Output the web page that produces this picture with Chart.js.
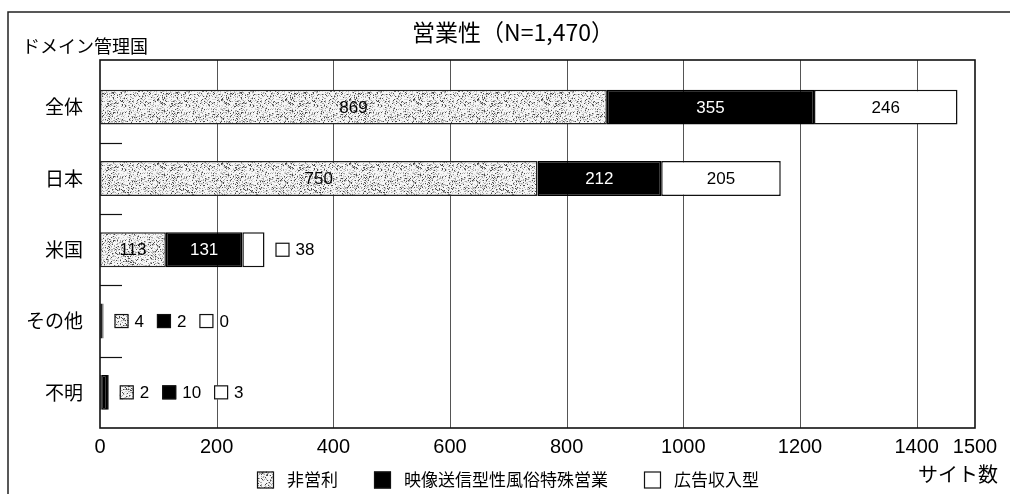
<!DOCTYPE html>
<html>
<head>
<meta charset="utf-8">
<script src="https://cdn.jsdelivr.net/npm/chart.js@4.4.1/dist/chart.umd.min.js"></script>
<style>
  html, body { margin: 0; padding: 0; background: #fff; }
  #wrap { width: 1010px; height: 494px; position: relative; }
</style>
</head>
<body>
<div id="wrap"><canvas id="c" width="1010" height="494"></canvas></div>
<script>
// Sites by domain registrant country, split by business type
const categories = ['全体', '日本', '米国', 'その他', '不明'];
const nonProfit  = [869, 750, 113, 4, 2];
const adultVideo = [355, 212, 131, 2, 10];
const adRevenue  = [246, 205, 38, 0, 3];
const seriesNames = ['非営利', '映像送信型性風俗特殊営業', '広告収入型'];
const xTicks = [0, 200, 400, 600, 800, 1000, 1200, 1400, 1500];
const chartTitle = '営業性（N=1,470）';
const yTitle = 'ドメイン管理国';
const xTitle = 'サイト数';

const JP = '"Noto Sans CJK JP", "Noto Sans", sans-serif';
const NUM = '"Liberation Sans", Arial, sans-serif';

const canvas = document.getElementById('c');
const ctx = canvas.getContext('2d');

// Speckled grey fill for the non-profit series (fixed hash, repeats as a tile)
function makeStipple() {
  const n = 64;
  const t = document.createElement('canvas');
  t.width = n; t.height = n;
  const g = t.getContext('2d');
  g.fillStyle = '#f6f6f6';
  g.fillRect(0, 0, n, n);
  for (let y = 0; y < n; y++) {
    for (let x = 0; x < n; x++) {
      const v = Math.sin(x * 12.9898 + y * 78.233) * 43758.5453;
      const f = v - Math.floor(v);
      if (f < 0.09) { g.fillStyle = '#4a4a4a'; g.fillRect(x, y, 1, 1); }
      else if (f < 0.26) { g.fillStyle = '#a8a8a8'; g.fillRect(x, y, 1, 1); }
      else if (f < 0.40) { g.fillStyle = '#d6d6d6'; g.fillRect(x, y, 1, 1); }
    }
  }
  return ctx.createPattern(t, 'repeat');
}
const stipple = makeStipple();
const fills = [stipple, '#000000', '#ffffff'];
const series = [nonProfit, adultVideo, adRevenue];

function drawSwatch(c, i, x, y, s) {
  c.fillStyle = fills[i];
  c.fillRect(x, y, s, s);
  c.lineWidth = 1.2;
  c.strokeStyle = '#111';
  c.strokeRect(x + 0.5, y + 0.5, s - 1, s - 1);
}

const decor = {
  id: 'decor',
  beforeDatasetsDraw(chart) {
    const c = chart.ctx;
    const a = chart.chartArea;
    const xs = chart.scales.x;
    const ys = chart.scales.y;
    const top = 60;
    c.save();
    // vertical grid lines
    c.strokeStyle = '#555';
    c.lineWidth = 1;
    xTicks.forEach(v => {
      if (v === 0 || v === 1500) return;
      const px = Math.round(xs.getPixelForValue(v)) + 0.5;
      c.beginPath(); c.moveTo(px, top); c.lineTo(px, a.bottom); c.stroke();
    });
    // plot frame
    c.strokeStyle = '#111';
    c.lineWidth = 1.6;
    c.strokeRect(a.left, top, a.right - a.left, a.bottom - top);
    // short marks between categories
    c.lineWidth = 1.2;
    for (let j = 0; j < categories.length - 1; j++) {
      const py = Math.round((ys.getPixelForValue(j) + ys.getPixelForValue(j + 1)) / 2) + 0.5;
      c.beginPath(); c.moveTo(a.left, py); c.lineTo(a.left + 22, py); c.stroke();
    }
    c.restore();
  },
  afterDatasetsDraw(chart) {
    const c = chart.ctx;
    c.save();
    c.textBaseline = 'middle';
    categories.forEach((cat, j) => {
      const bars = [0, 1, 2].map(i => chart.getDatasetMeta(i).data[j]);
      let cursor = Math.max(...bars.map(b => b.x)) + 11;
      bars.forEach((b, i) => {
        const w = Math.abs(b.x - b.base);
        const txt = String(series[i][j]);
        if (w >= 28) {
          c.font = '17px ' + NUM;
          c.textAlign = 'center';
          c.fillStyle = i === 1 ? '#fff' : '#000';
          c.fillText(txt, (b.x + b.base) / 2, b.y + 1);
        } else {
          const s = 14;
          drawSwatch(c, i, cursor, b.y - s / 2, s);
          c.font = '17px ' + NUM;
          c.textAlign = 'left';
          c.fillStyle = '#000';
          c.fillText(txt, cursor + s + 6, b.y + 1);
          cursor += s + 6 + c.measureText(txt).width + 13;
        }
      });
    });
    c.restore();
  },
  afterDraw(chart) {
    const c = chart.ctx;
    c.save();
    // outer frame lines
    c.strokeStyle = '#222';
    c.lineWidth = 1.5;
    c.beginPath();
    c.moveTo(8, 494); c.lineTo(8, 12); c.lineTo(1010, 12);
    c.stroke();
    c.fillStyle = '#000';
    c.textBaseline = 'middle';
    // title
    c.font = '23px ' + JP;
    c.textAlign = 'center';
    c.fillText(chartTitle, 513, 32);
    // axis titles
    c.font = '18px ' + JP;
    c.textAlign = 'left';
    c.fillText(yTitle, 22, 46);
    c.font = '20px ' + JP;
    c.textAlign = 'right';
    c.fillText(xTitle, 998, 474);
    // legend
    c.font = '17px ' + JP;
    const box = 17, gapIn = 13, gapOut = 36;
    const widths = seriesNames.map(n => c.measureText(n).width);
    const total = widths.reduce((s, w) => s + box + gapIn + w, 0) + gapOut * (seriesNames.length - 1);
    let x = 508 - total / 2;
    const ly = 480;
    c.textAlign = 'left';
    seriesNames.forEach((n, i) => {
      drawSwatch(c, i, x, ly - box / 2, box);
      c.fillStyle = '#000';
      c.fillText(n, x + box + gapIn, ly);
      x += box + gapIn + widths[i] + gapOut;
    });
    c.restore();
  }
};

new Chart(ctx, {
  type: 'bar',
  data: {
    labels: categories,
    datasets: [
      { label: seriesNames[0], data: nonProfit, backgroundColor: stipple, borderColor: '#222', borderWidth: 1.5, borderSkipped: false },
      { label: seriesNames[1], data: adultVideo, backgroundColor: '#000', borderColor: '#000', borderWidth: 1.5, borderSkipped: false },
      { label: seriesNames[2], data: adRevenue, backgroundColor: '#fff', borderColor: '#111', borderWidth: 1.5, borderSkipped: false }
    ]
  },
  options: {
    indexAxis: 'y',
    responsive: false,
    animation: false,
    devicePixelRatio: 1,
    layout: { padding: { top: 71.5, right: 35, left: 0, bottom: 0 } },
    datasets: { bar: { barPercentage: 0.49, categoryPercentage: 1 } },
    plugins: {
      legend: { display: false },
      title: { display: false },
      tooltip: { enabled: false }
    },
    scales: {
      x: {
        type: 'linear',
        stacked: true,
        min: 0,
        max: 1500,
        afterBuildTicks: s => { s.ticks = xTicks.map(v => ({ value: v })); },
        afterFit: s => { s.height = 66; },
        grid: { display: false, drawTicks: false },
        border: { display: false },
        ticks: {
          font: { family: NUM, size: 20 }, color: '#000', padding: 7,
          maxRotation: 0, autoSkip: false,
          callback: v => String(v)
        }
      },
      y: {
        stacked: true,
        afterFit: s => { s.width = 100; },
        grid: { display: false, drawTicks: false },
        border: { display: false },
        ticks: { font: { family: JP, size: 19 }, color: '#000', padding: 17 }
      }
    }
  },
  plugins: [decor]
});
</script>
</body>
</html>
